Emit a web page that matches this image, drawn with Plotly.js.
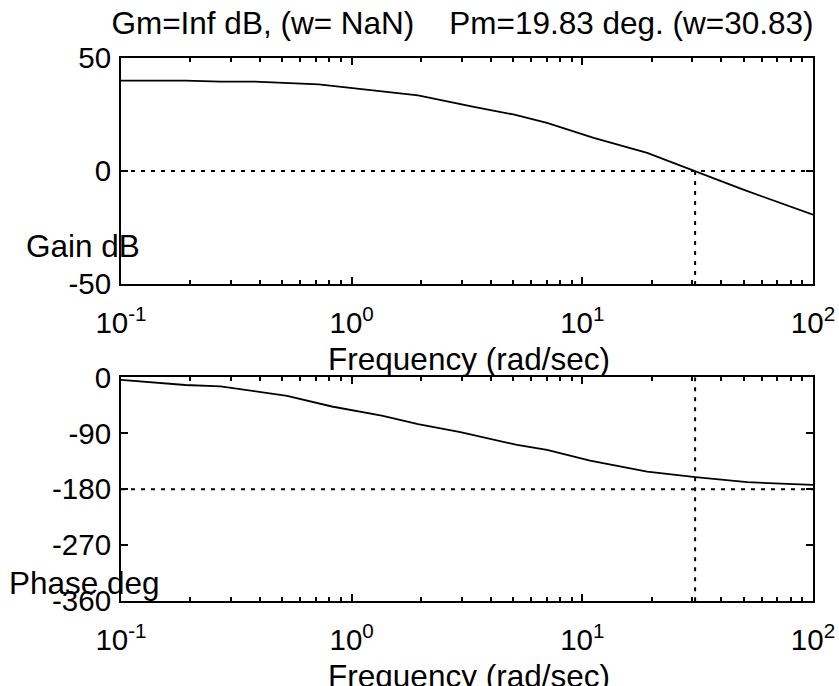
<!DOCTYPE html>
<html>
<head>
<meta charset="utf-8">
<script src="https://cdn.plot.ly/plotly-3.0.1.min.js"></script>
<style>
  html, body { margin: 0; padding: 0; background: #fff; }
  #wrap { position: relative; width: 839px; height: 686px; overflow: hidden; }
  #chart { width: 839px; height: 686px; }
  .lbl { position: absolute; font-family: 'Liberation Sans', Arial, Helvetica, sans-serif; font-size: 31.5px;
         line-height: 31.5px; color: #000; white-space: pre; pointer-events: none; z-index: 5; }
</style>
</head>
<body>
<div id="wrap">
  <div id="chart"></div>
  <div class="lbl" id="title" style="left:462.5px; top:8px; transform:translateX(-50%);"></div>
  <div class="lbl" id="xlab1" style="left:469px; top:344px; transform:translateX(-50%);"></div>
  <div class="lbl" id="xlab2" style="left:469px; top:661px; transform:translateX(-50%);"></div>
  <div class="lbl" id="ylab1" style="left:26px; top:231px;"></div>
  <div class="lbl" id="ylab2" style="left:9px; top:568px;"></div>
</div>
<script>
// ---- data ----
const wGain   = [0.1, 0.19, 0.27, 0.38, 0.72, 1.35, 1.94, 3.43, 5.02, 7.03, 11.2, 19.1, 30.9, 49.9, 100];
const gainDb  = [40.0, 40.0, 39.5, 39.5, 38.3, 35.3, 33.5, 28.2, 25.0, 21.3, 14.6, 8.0, 0.0, -8.3, -19.4];

const wPhase   = [0.1, 0.19, 0.27, 0.38, 0.525, 0.82, 1.35, 1.94, 2.96, 5.21, 7.03, 10.8, 19.1, 30.9, 51.9, 100];
const phaseDeg = [-4.3, -12.4, -14.5, -23, -30, -47, -61.7, -75.5, -88.4, -108.8, -116.8, -134, -151.7, -160.7, -168.8, -173.1];

const freqSpan   = [0.1, 100];
const gainRef    = 0;
const phaseRef   = -180;
const wCrossover = 30.83;
const gainLimits  = [-50, 50];
const phaseLimits = [-360, 0];

const decadeTicks   = [0.1, 1, 10, 100];
const decadeLabels  = ['10<sup>-1</sup>', '10<sup>0</sup>', '10<sup>1</sup>', '10<sup>2</sup>'];
const minorTicks    = [0.2,0.3,0.4,0.5,0.6,0.7,0.8,0.9, 2,3,4,5,6,7,8,9, 20,30,40,50,60,70,80,90];
const gainTicks     = [-50, 0, 50];
const gainTickText  = ['-50', '0', '50'];
const phaseTicks    = [-360, -270, -180, -90, 0];
const phaseTickText = ['-360', '-270', '-180', '-90', '0'];

const titleText = 'Gm=Inf dB, (w= NaN)    Pm=19.83 deg. (w=30.83)';
const xLabel = 'Frequency (rad/sec)';
const gainLabel = 'Gain dB';
const phaseLabel = 'Phase deg';

// ---- styling ----
const FONT = 'Liberation Sans, Arial, Helvetica, sans-serif';
const dotted = '4px,6px';
const TICKFONT = { family: FONT, size: 29.5, color: '#000' };
const MAJOR_LEN = 7, MINOR_LEN = 4, TICK_W = 2;

function xAxis(anchor) {
  return { type: 'log', range: [Math.log10(freqSpan[0]), Math.log10(freqSpan[1])], anchor: anchor,
    showline: true, linewidth: 2, linecolor: '#000', mirror: 'ticks',
    ticks: 'inside', ticklen: MAJOR_LEN, tickwidth: TICK_W, tickcolor: '#000',
    tickmode: 'array', tickvals: decadeTicks, ticktext: decadeLabels,
    tickfont: TICKFONT, ticklabelstandoff: 12,
    minor: { ticks: 'inside', ticklen: MINOR_LEN, tickwidth: TICK_W, tickcolor: '#000', tickmode: 'array', tickvals: minorTicks, showgrid: false },
    showgrid: false, zeroline: false };
}
function yAxis(anchor, domain, range, tickvals, ticktext) {
  return { anchor: anchor, domain: domain, range: range,
    showline: true, linewidth: 2, linecolor: '#000', mirror: 'ticks',
    ticks: 'inside', ticklen: MAJOR_LEN, tickwidth: TICK_W, tickcolor: '#000',
    tickmode: 'array', tickvals: tickvals, ticktext: ticktext,
    tickfont: TICKFONT, ticklabelstandoff: 2,
    showgrid: false, zeroline: false };
}

const refLine = { color: '#000', width: 2, dash: dotted };
const traces = [
  { x: freqSpan, y: [gainRef, gainRef], xaxis: 'x', yaxis: 'y', mode: 'lines', line: refLine },
  { x: [wCrossover, wCrossover], y: [gainRef, gainLimits[0]], xaxis: 'x', yaxis: 'y', mode: 'lines', line: refLine },
  { x: wGain, y: gainDb, xaxis: 'x', yaxis: 'y', mode: 'lines', name: 'Gain', line: { color: '#000', width: 1.8 } },
  { x: freqSpan, y: [phaseRef, phaseRef], xaxis: 'x2', yaxis: 'y2', mode: 'lines', line: refLine },
  { x: [wCrossover, wCrossover], y: [phaseLimits[1], phaseLimits[0]], xaxis: 'x2', yaxis: 'y2', mode: 'lines', line: refLine },
  { x: wPhase, y: phaseDeg, xaxis: 'x2', yaxis: 'y2', mode: 'lines', name: 'Phase', line: { color: '#000', width: 1.8 } }
];

const layout = {
  width: 839, height: 686,
  margin: { l: 121, r: 26, t: 58, b: 85 },
  showlegend: false,
  xaxis: xAxis('y'),
  yaxis: yAxis('x', [0.584, 1], gainLimits, gainTicks, gainTickText),
  xaxis2: xAxis('y2'),
  yaxis2: yAxis('x2', [0, 0.412], phaseLimits, phaseTicks, phaseTickText)
};

document.getElementById('title').textContent = titleText;
document.getElementById('xlab1').textContent = xLabel;
document.getElementById('xlab2').textContent = xLabel;
document.getElementById('ylab1').textContent = gainLabel;
document.getElementById('ylab2').textContent = phaseLabel;

Plotly.newPlot('chart', traces, layout, { staticPlot: true, displayModeBar: false });
</script>
</body>
</html>
